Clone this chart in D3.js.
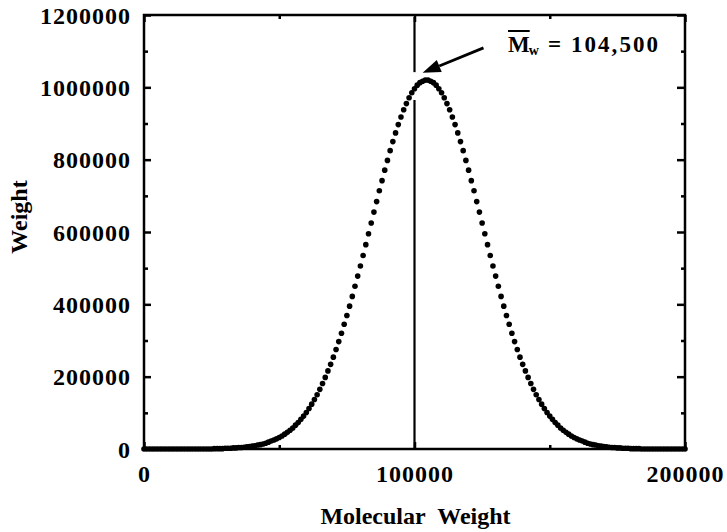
<!DOCTYPE html>
<html>
<head>
<meta charset="utf-8">
<script src="https://cdn.jsdelivr.net/npm/d3@7"></script>
<style>
  html, body { margin: 0; padding: 0; background: #fff; }
  svg text { font-family: "Liberation Serif", "Times New Roman", serif; font-weight: bold; fill: #000; }
</style>
</head>
<body>
<svg id="chart" width="727" height="532"></svg>
<script>
// ---- data ----
const mwStart = 0, mwStop = 200000, mwStep = 1000;
const molecularWeight = d3.range(mwStart, mwStop + 1, mwStep);
const weight = [
  0,0,0,0,0,0,0,0,0,0, 0,0,0,0,0,0,0,0,0,0, 0,0,0,0,0,0,
  1000,1000,1000,1000,2000,2000,2000,3000,3000,4000,
  4000,5000,6000,7000,8000,9000,11000,12000,14000,16000,
  19000,22000,25000,28000,32000,36000,41000,46000,52000,58000,
  66000,73000,82000,91000,101000,112000,124000,137000,150000,165000,
  181000,198000,216000,234000,254000,275000,297000,320000,345000,369000,
  395000,422000,450000,478000,506000,535000,565000,595000,625000,655000,
  684000,714000,742000,771000,798000,825000,850000,874000,897000,918000,
  938000,955000,971000,985000,996000,1006000,1013000,1017000,1020000,
  1020000,1017000,1013000,1006000,996000,985000,971000,955000,938000,918000,
  897000,874000,850000,825000,798000,771000,742000,714000,684000,655000,
  625000,595000,565000,535000,506000,478000,450000,422000,395000,369000,
  345000,320000,297000,275000,254000,234000,216000,198000,181000,165000,
  150000,137000,124000,112000,101000,91000,82000,73000,66000,58000,
  52000,46000,41000,36000,32000,28000,25000,22000,19000,16000,
  14000,12000,11000,9000,8000,7000,6000,5000,4000,4000,
  3000,3000,2000,2000,2000,1000,1000,1000,1000,
  0,0,0,0,0,0,0,0,0,0, 0,0,0,0,0,0,0
];
const xTicks = [0, 100000, 200000];
const xMinorTicks = [50000, 150000];
const yTicks = [0, 200000, 400000, 600000, 800000, 1000000, 1200000];
const yMinorTicks = [100000, 300000, 500000, 700000, 900000, 1100000];
const xDomain = [0, 200000];
const yDomain = [0, 1200000];
const markerMW = 100000;               // vertical reference line
const markerGap = [965000, 1042000];   // gap in the reference line around the peak
const arrowTarget = [103000, 1040000]; // arrow tip
const arrowSource = [125500, 1109000]; // arrow tail
const annotationLabel = "= 104,500";
const xTitle = "Molecular\u00a0 Weight";
const yTitle = "Weight";

// ---- layout ----
const svg = d3.select("#chart");
const pLeft = 144, pRight = 685, pTop = 15, pBottom = 449;
const x = d3.scaleLinear().domain(xDomain).range([pLeft, pRight]);
const y = d3.scaleLinear().domain(yDomain).range([pBottom, pTop]);

const tickFont = { size: "24px", spacing: "1px" };

// frame
svg.append("rect").attr("x", pLeft).attr("y", pTop)
  .attr("width", pRight - pLeft).attr("height", pBottom - pTop)
  .attr("fill", "none").attr("stroke", "#000").attr("stroke-width", 2.5);

function styleAxis(g) {
  g.select(".domain").remove();
  g.selectAll(".tick line").attr("stroke", "#000").attr("stroke-width", 2.5);
  g.selectAll(".tick text").style("font-size", tickFont.size).style("letter-spacing", tickFont.spacing);
}

// left axis
svg.append("g").attr("transform", `translate(${pLeft},0)`)
  .call(d3.axisLeft(y).tickValues(yTicks).tickFormat(d3.format("d")).tickSize(-7).tickPadding(13))
  .call(styleAxis)
  .selectAll(".tick text").attr("dy", "0.34em");
svg.append("g").attr("transform", `translate(${pLeft},0)`)
  .call(d3.axisLeft(y).tickValues(yMinorTicks).tickFormat("").tickSize(-4))
  .call(styleAxis);
// right axis
svg.append("g").attr("transform", `translate(${pRight},0)`)
  .call(d3.axisRight(y).tickValues(yTicks).tickFormat("").tickSize(-8))
  .call(styleAxis);
svg.append("g").attr("transform", `translate(${pRight},0)`)
  .call(d3.axisRight(y).tickValues(yMinorTicks).tickFormat("").tickSize(-4))
  .call(styleAxis);
// bottom axis
svg.append("g").attr("transform", `translate(0,${pBottom})`)
  .call(d3.axisBottom(x).tickValues(xTicks).tickFormat(d3.format("d")).tickSize(-7).tickPadding(16))
  .call(styleAxis);
svg.append("g").attr("transform", `translate(0,${pBottom})`)
  .call(d3.axisBottom(x).tickValues(xMinorTicks).tickFormat("").tickSize(-4))
  .call(styleAxis);
// top axis
svg.append("g").attr("transform", `translate(0,${pTop})`)
  .call(d3.axisTop(x).tickValues(xTicks).tickFormat("").tickSize(-7))
  .call(styleAxis);
svg.append("g").attr("transform", `translate(0,${pTop})`)
  .call(d3.axisTop(x).tickValues(xMinorTicks).tickFormat("").tickSize(-4))
  .call(styleAxis);

// vertical reference line with gap at the peak
svg.append("line").attr("x1", x(markerMW)).attr("x2", x(markerMW))
  .attr("y1", y(yDomain[1]) + 2).attr("y2", y(markerGap[1]))
  .attr("stroke", "#000").attr("stroke-width", 2.2);
svg.append("line").attr("x1", x(markerMW)).attr("x2", x(markerMW))
  .attr("y1", y(markerGap[0])).attr("y2", y(0))
  .attr("stroke", "#000").attr("stroke-width", 2.2);

// dots
svg.append("g").selectAll("circle")
  .data(molecularWeight.map((m, i) => [m, weight[i]]))
  .join("circle")
  .attr("cx", d => x(d[0])).attr("cy", d => y(d[1]))
  .attr("r", 2.8).attr("fill", "#000");

// axis titles
svg.append("text").attr("x", (pLeft + pRight) / 2 + 1).attr("y", 524)
  .attr("text-anchor", "middle").style("font-size", "24px").text(xTitle);
svg.append("text").attr("transform", "translate(27,217) rotate(-90)")
  .attr("text-anchor", "middle").style("font-size", "24px").text(yTitle);

// annotation
const ax = 508, ay = 52;
const mText = svg.append("text").attr("x", ax).attr("y", ay).style("font-size", "23px").text("M");
const mW = mText.node().getComputedTextLength();
svg.append("line").attr("x1", ax).attr("x2", ax + mW).attr("y1", ay - 21).attr("y2", ay - 21)
  .attr("stroke", "#000").attr("stroke-width", 2);
svg.append("text").attr("x", ax + mW - 1).attr("y", ay + 3).style("font-size", "14px").text("w");
svg.append("text").attr("x", 548).attr("y", ay)
  .style("font-size", "23px").style("letter-spacing", "2px")
  .text(annotationLabel)
  .attr("textLength", 660 - 548).attr("lengthAdjust", "spacing");

// arrow
const tail = [x(arrowSource[0]), y(arrowSource[1])];
const tip = [x(arrowTarget[0]), y(arrowTarget[1])];
const ang = Math.atan2(tip[1] - tail[1], tip[0] - tail[0]);
const headLen = 18, headW = 6.5;
const base = [tip[0] - headLen * Math.cos(ang), tip[1] - headLen * Math.sin(ang)];
svg.append("line").attr("x1", tail[0]).attr("y1", tail[1]).attr("x2", base[0]).attr("y2", base[1])
  .attr("stroke", "#000").attr("stroke-width", 2.8);
svg.append("path")
  .attr("d", d3.line()([
    tip,
    [base[0] + headW * Math.sin(ang), base[1] - headW * Math.cos(ang)],
    [base[0] - headW * Math.sin(ang), base[1] + headW * Math.cos(ang)]
  ]) + "Z")
  .attr("fill", "#000");
</script>
</body>
</html>
